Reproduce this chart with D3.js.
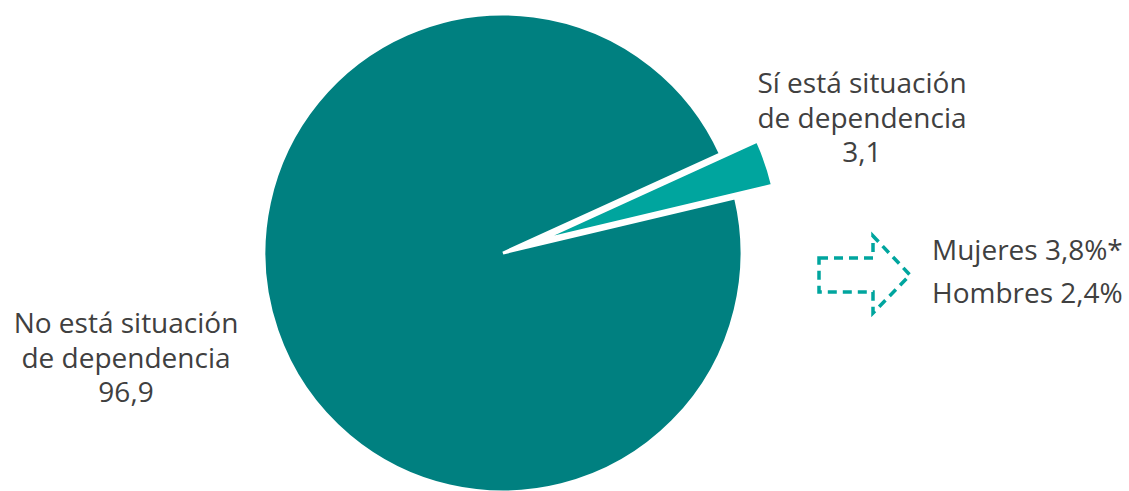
<!DOCTYPE html>
<html>
<head>
<meta charset="utf-8">
<script src="https://cdn.jsdelivr.net/npm/d3@7"></script>
<style>
  html, body { margin: 0; padding: 0; background: #fff; }
  svg { display: block; }
  text { font-family: "Open Sans", "Noto Sans", sans-serif; fill: #404040; }
</style>
</head>
<body>
<svg id="chart" width="1129" height="491"></svg>
<script>
const categories = ["Sí está situación de dependencia", "No está situación de dependencia"];
const labelLines = [["Sí está situación", "de dependencia", "3,1"], ["No está situación", "de dependencia", "96,9"]];
const values = [3.1, 96.9];
const colors = ["#00A59E", "#008080"];
const explode = [39, 0];
const breakdownLabels = ["Mujeres 3,8%*", "Hombres 2,4%"];

const svg = d3.select("#chart");
const cx = 503, cy = 253, r = 239;
const startAngle = 65.5 * Math.PI / 180;

const pie = d3.pie().sort(null).value(d => d).startAngle(startAngle).endAngle(startAngle + 2 * Math.PI);
const arcs = pie(values);
const arc = d3.arc().innerRadius(0).outerRadius(r);

const g = svg.append("g").attr("transform", `translate(${cx},${cy})`);
g.selectAll("path.slice").data(arcs).join("path")
  .attr("class", "slice")
  .attr("d", arc)
  .attr("fill", (d, i) => colors[i])
  .attr("stroke", "#fff")
  .attr("stroke-width", 3)
  .attr("stroke-linejoin", "miter")
  .attr("transform", (d, i) => {
    const m = (d.startAngle + d.endAngle) / 2;
    return `translate(${explode[i] * Math.sin(m)},${-explode[i] * Math.cos(m)})`;
  });

// labels
const labelPos = [[862, 93], [126, 333]];
const lineH = 34.5;
labelLines.forEach((lines, i) => {
  const t = svg.append("text")
    .attr("x", labelPos[i][0]).attr("y", labelPos[i][1])
    .attr("text-anchor", "middle")
    .style("font-size", "28px");
  lines.forEach((ln, j) => {
    t.append("tspan").attr("x", labelPos[i][0]).attr("dy", j === 0 ? 0 : lineH).text(ln);
  });
});

// dashed arrow
const arrowPts = [[819, 258], [873, 258], [873, 236], [910, 275], [873, 313], [873, 292], [819, 292]];
svg.append("path")
  .attr("d", d3.line()(arrowPts) + "Z")
  .attr("fill", "none")
  .attr("stroke", colors[0])
  .attr("stroke-width", 3.5)
  .attr("stroke-dasharray", "9,6");

breakdownLabels.forEach((s, i) => {
  svg.append("text").attr("x", 932).attr("y", 260 + i * 43)
    .style("font-size", "28px").text(s);
});
</script>
</body>
</html>
